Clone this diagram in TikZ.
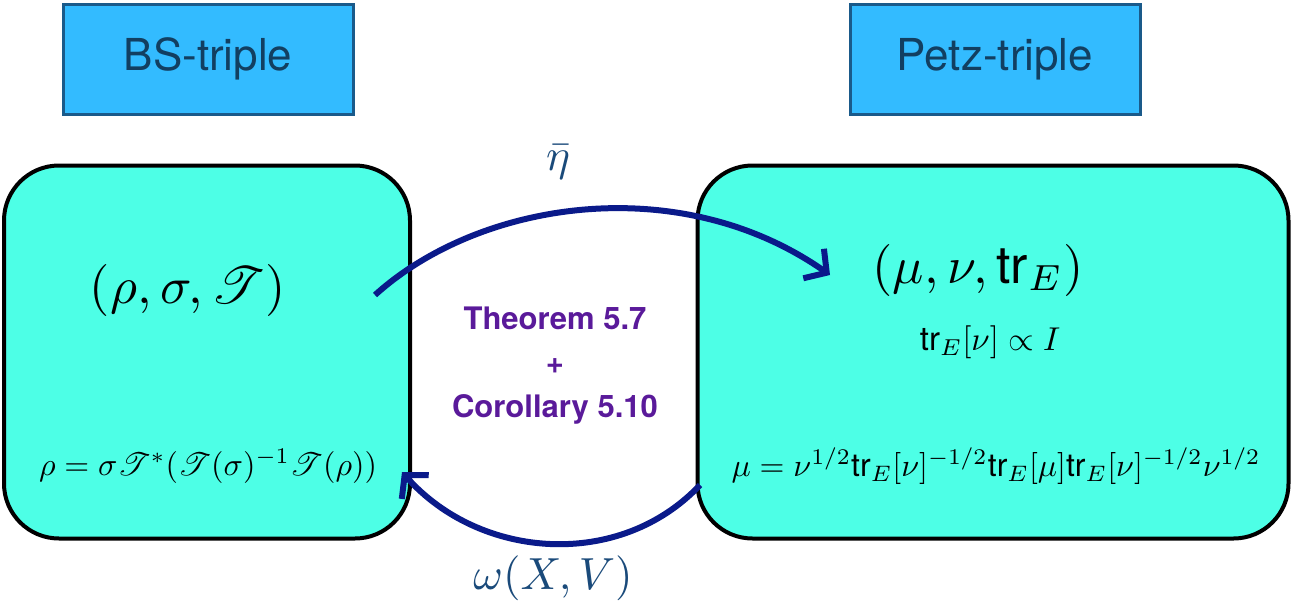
\documentclass[tikz,border=0pt]{standalone}
\usepackage{fontspec}
\usepackage{mathrsfs}
\usepackage{amssymb}
\setsansfont{TeX Gyre Heros}
\usetikzlibrary{arrows.meta}
\definecolor{hdrfill}{HTML}{33BBFF}
\definecolor{hdrdraw}{HTML}{1A5A8A}
\definecolor{boxfill}{HTML}{4DFFE6}
\definecolor{arr}{HTML}{0A1A8A}
\definecolor{lbl}{HTML}{1A4A7A}
\definecolor{thm}{HTML}{5A1A9A}
\tikzset{
 hdr/.style={draw=hdrdraw,line width=3pt,fill=hdrfill,minimum width=290pt,minimum height=110pt,font=\sffamily\fontsize{44}{48}\selectfont,text=hdrdraw!70!black},
 bigbox/.style={draw=black,line width=4pt,fill=boxfill,rounded corners=55pt},
 conn/.style={draw=arr,line width=6pt,-{Straight Barb[length=16pt,width=36pt,line width=6pt]}},
}
\begin{document}
\begin{tikzpicture}[x=1pt,y=-1pt]
\useasboundingbox (0,0) rectangle (1293,611);
\node[hdr] (bs) at (208,59) {BS-triple};
\node[hdr] (pz) at (995,59) {Petz-triple};
\node[bigbox,minimum width=406pt,minimum height=373pt] (L) at (207,352) {};
\node[bigbox,minimum width=591pt,minimum height=373pt] (R) at (993,352) {};
\node[scale=5.2] (lt) at (188,290) {$(\rho,\sigma,\mathscr{T})$};
\node[scale=3.2] (lb) at (208,466) {$\rho=\sigma\mathscr{T}^*(\mathscr{T}(\sigma)^{-1}\mathscr{T}(\rho))$};
\node[scale=5.2] (rt) at (978,270) {$(\mu,\nu,\mathsf{tr}_E)$};
\node[scale=3.3] (rm) at (990,342) {$\mathsf{tr}_E[\nu]\propto I$};
\node[scale=3.2] (rb) at (996,466) {$\mu=\nu^{1/2}\mathsf{tr}_E[\nu]^{-1/2}\mathsf{tr}_E[\mu]\mathsf{tr}_E[\nu]^{-1/2}\nu^{1/2}$};
\coordinate (a1) at (375,295);
\coordinate (a2) at (830,275);
\coordinate (b1) at (700,485);
\coordinate (b2) at (402,472);
\draw[conn] (a1) .. controls (480,200) and (680,170) .. (a2);
\draw[conn] (b1) .. controls (620,570) and (480,560) .. (b2);
\node[text=lbl,scale=4.5] (eta) at (558,162) {$\bar\eta$};
\node[text=lbl,scale=4.5] (om) at (553,578) {$\omega(X,V)$};
\node[text=thm,font=\sffamily\bfseries\fontsize{31}{44}\selectfont,align=center] (th) at (555,366) {Theorem 5.7\\+\\Corollary 5.10};
\end{tikzpicture}
\end{document}
